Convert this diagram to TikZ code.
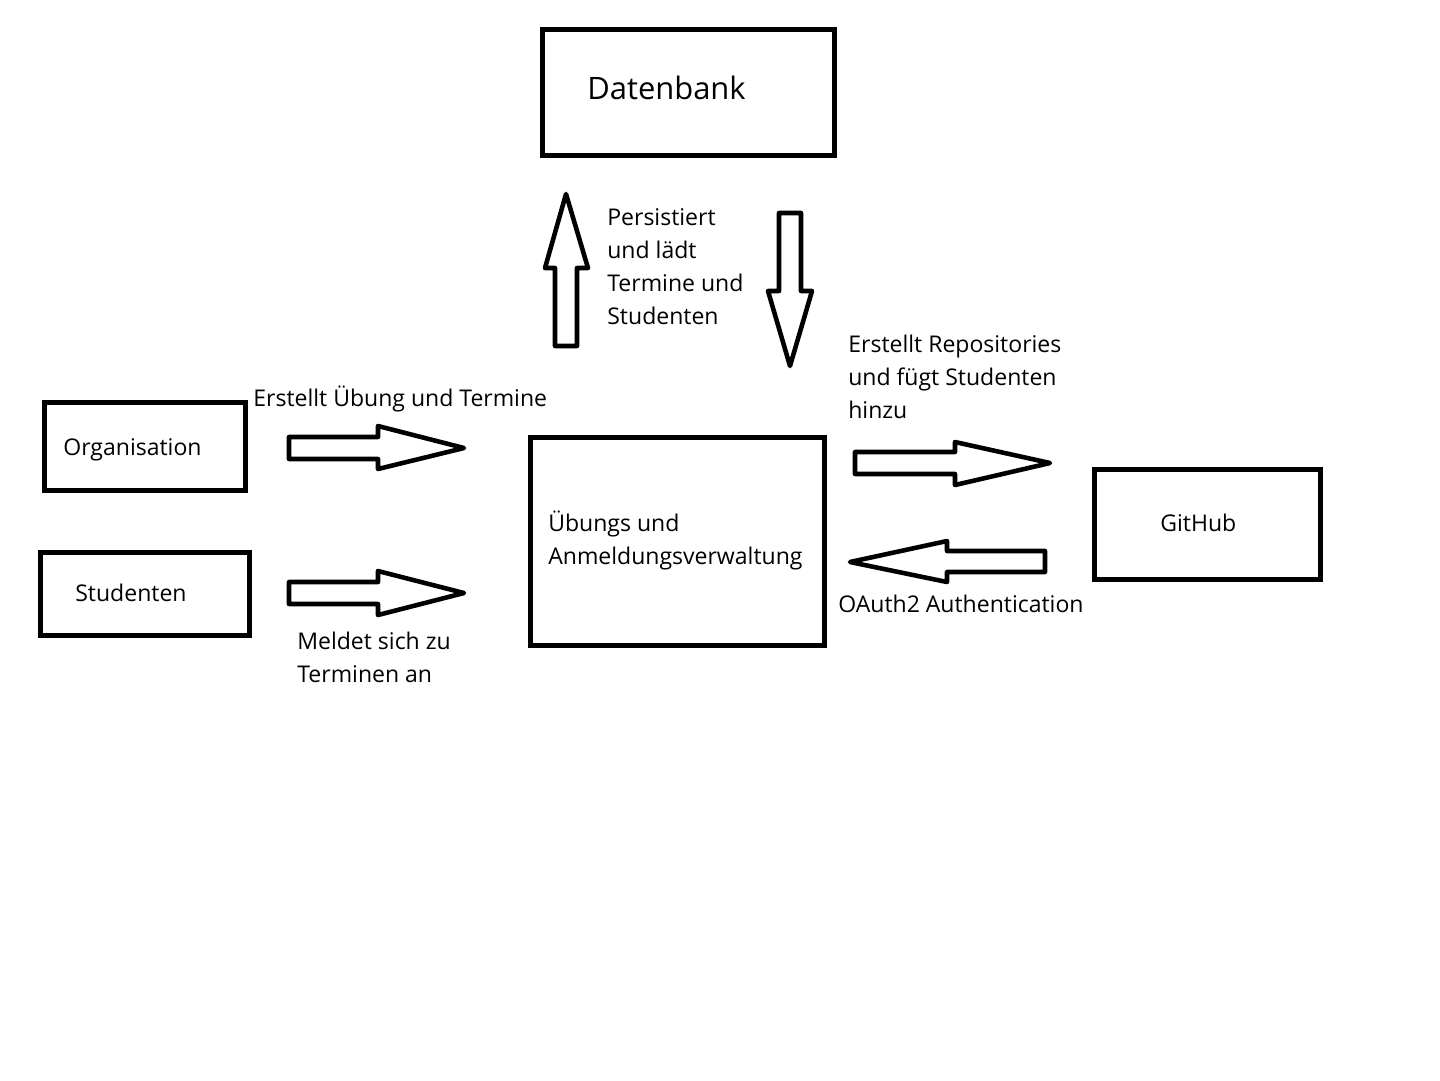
\documentclass[tikz,border=0pt]{standalone}
\usepackage{fontspec}
\setmainfont{Open Sans}
\begin{document}
\begin{tikzpicture}[x=0.02cm,y=-0.02cm]
 \tikzset{box/.style = {draw,line width=2.8pt,inner sep=0pt}}
 \tikzset{txt/.style = {anchor=base west,inner sep=0pt,align=left,font=\fontsize{13.1}{18.7}\selectfont}}
 \tikzset{fatarrow/.style = {draw,line width=2.6pt,line join=round}}
 \fill[white] (0,0) rectangle (1440,1080);
 % boxes
 \node[box,minimum width=5.84cm,minimum height=2.52cm] (db) at (688.5,92.5) {};
 \node[box,minimum width=4.02cm,minimum height=1.76cm] (org) at (145,446.5) {};
 \node[box,minimum width=4.18cm,minimum height=1.66cm] (stud) at (145,594) {};
 \node[box,minimum width=5.88cm,minimum height=4.16cm] (verw) at (677.5,541.5) {};
 \node[box,minimum width=4.52cm,minimum height=2.2cm] (gh) at (1207.5,524.5) {};
 % box texts (multi-line: base = last line)
 \node[txt,font=\fontsize{17.6}{22}\selectfont] (dbtext) at (587,99) {Datenbank};
 \node[txt] (orgtext) at (63,455) {Organisation};
 \node[txt] (studtext) at (75,601) {Studenten};
 \node[txt] (verwtext) at (548,564) {Übungs und\\Anmeldungsverwaltung};
 \node[txt] (ghtext) at (1160,531) {GitHub};
 % arrows
 \draw[fatarrow] (289,437) -- (378,437) -- (378,426) -- (464,448) -- (378,469) -- (378,459) -- (289,459) -- cycle;
 \draw[fatarrow] (289,582) -- (378,582) -- (378,571) -- (464,593) -- (378,615) -- (378,604) -- (289,604) -- cycle;
 \draw[fatarrow] (555,346) -- (555,268) -- (545,268) -- (566,194) -- (588,268) -- (577,268) -- (577,346) -- cycle;
 \draw[fatarrow] (779,213) -- (801,213) -- (801,291) -- (812,291) -- (790,366) -- (768,291) -- (779,291) -- cycle;
 \draw[fatarrow] (855,452) -- (955,452) -- (955,442) -- (1050,463) -- (955,485) -- (955,474) -- (855,474) -- cycle;
 \draw[fatarrow] (1045,551) -- (947,551) -- (947,541) -- (850,562) -- (947,582) -- (947,572) -- (1045,572) -- cycle;
 % arrow labels
 \node[txt] (erstellt) at (253,406) {Erstellt Übung und Termine};
 \node[txt] (meldet) at (297,682) {Meldet sich zu\\Terminen an};
 \node[txt] (persist) at (607,324) {Persistiert\\und lädt\\Termine und\\Studenten};
 \node[txt] (repos) at (848,418) {Erstellt Repositories\\und fügt Studenten\\hinzu};
 \node[txt] (oauth) at (838,612) {OAuth2 Authentication};
\end{tikzpicture}
\end{document}
